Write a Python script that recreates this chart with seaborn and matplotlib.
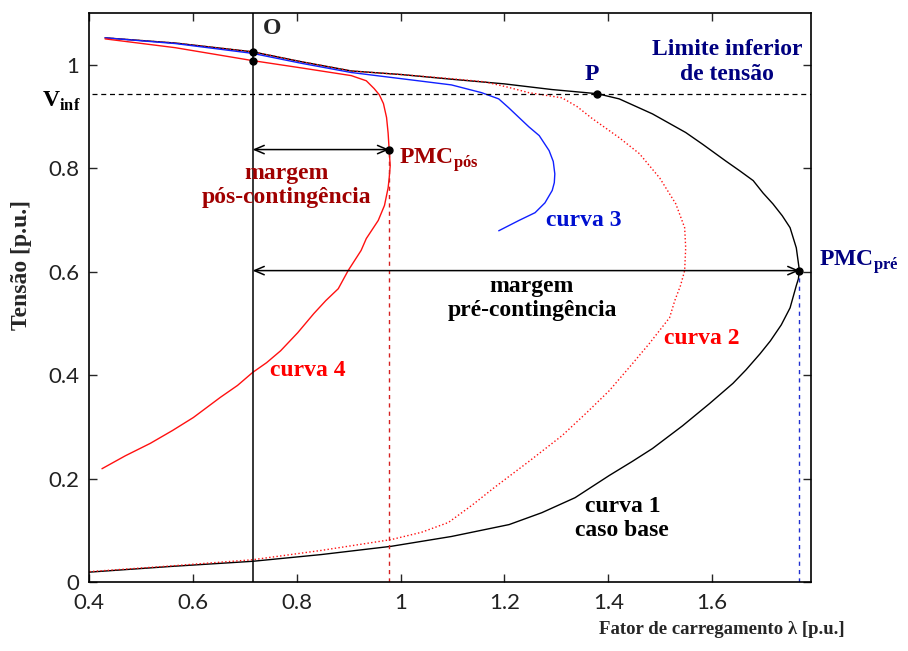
import matplotlib
matplotlib.use("Agg")
import matplotlib.pyplot as plt
import seaborn as sns
import pandas as pd

# curva 1 - caso base (black, solid)
c1_x = [0.431, 0.566, 0.715, 0.808, 0.905, 1.002, 1.098, 1.200, 1.292, 1.379, 1.421, 1.485,
        1.549, 1.582, 1.626, 1.653, 1.679, 1.698, 1.717, 1.735, 1.750, 1.762, 1.768, 1.766,
        1.762, 1.750, 1.733, 1.712, 1.692, 1.665, 1.640, 1.595, 1.543, 1.485, 1.446, 1.402,
        1.336, 1.272, 1.209, 1.098, 0.982, 0.847, 0.715, 0.557, 0.400]
c1_y = [1.052, 1.042, 1.025, 1.006, 0.988, 0.981, 0.972, 0.963, 0.952, 0.944, 0.934, 0.905,
        0.869, 0.846, 0.814, 0.795, 0.776, 0.752, 0.731, 0.708, 0.685, 0.646, 0.602, 0.586,
        0.573, 0.530, 0.497, 0.466, 0.441, 0.410, 0.384, 0.345, 0.302, 0.258, 0.233, 0.206,
        0.163, 0.134, 0.111, 0.088, 0.069, 0.053, 0.040, 0.030, 0.019]

# curva 2 (red, dotted)
c2_x = [0.431, 0.566, 0.715, 0.808, 0.905, 1.002, 1.098, 1.162, 1.205, 1.247, 1.311, 1.340,
        1.369, 1.421, 1.460, 1.499, 1.530, 1.547, 1.549, 1.547, 1.539, 1.528, 1.518, 1.479,
        1.443, 1.402, 1.359, 1.311, 1.247, 1.181, 1.137, 1.092, 1.040, 0.982, 0.847, 0.715,
        0.557, 0.400]
c2_y = [1.052, 1.042, 1.025, 1.006, 0.988, 0.981, 0.973, 0.967, 0.957, 0.946, 0.936, 0.919,
        0.896, 0.859, 0.828, 0.781, 0.731, 0.685, 0.646, 0.602, 0.573, 0.544, 0.511, 0.461,
        0.418, 0.370, 0.328, 0.283, 0.233, 0.183, 0.148, 0.115, 0.096, 0.082, 0.061, 0.043,
        0.031, 0.020]

# curva 3 (blue, solid)
c3_x = [0.431, 0.566, 0.715, 0.808, 0.905, 1.034, 1.098, 1.156, 1.189, 1.208, 1.228, 1.247,
        1.267, 1.286, 1.294, 1.297, 1.296, 1.292, 1.278, 1.259, 1.228, 1.189]
c3_y = [1.052, 1.041, 1.022, 1.003, 0.985, 0.969, 0.961, 0.946, 0.934, 0.917, 0.898, 0.880,
        0.863, 0.834, 0.813, 0.789, 0.772, 0.757, 0.733, 0.714, 0.699, 0.679]

# curva 4 (red, solid)
c4_x = [0.431, 0.566, 0.715, 0.808, 0.905, 0.934, 0.949, 0.959, 0.967, 0.973, 0.976, 0.978,
        0.980, 0.978, 0.976, 0.969, 0.957, 0.934, 0.924, 0.899, 0.880, 0.856, 0.833, 0.802,
        0.769, 0.742, 0.715, 0.686, 0.653, 0.601, 0.561, 0.518, 0.470, 0.425]
c4_y = [1.050, 1.033, 1.008, 0.994, 0.979, 0.969, 0.954, 0.942, 0.925, 0.898, 0.868, 0.836,
        0.805, 0.780, 0.762, 0.728, 0.699, 0.664, 0.641, 0.602, 0.567, 0.544, 0.519, 0.482,
        0.447, 0.424, 0.405, 0.380, 0.357, 0.318, 0.293, 0.268, 0.244, 0.219]

# marked points
lam_O = 0.715
v_inf = 0.944
O_y = [1.025, 1.008]
P_pt = (1.379, 0.944)
pmc_pos = (0.978, 0.836)
pmc_pre = (1.768, 0.602)

x_ticks = [0.4, 0.6, 0.8, 1.0, 1.2, 1.4, 1.6]
x_ticklabels = ['0.4', '0.6', '0.8', '1', '1.2', '1.4', '1.6']
y_ticks = [0, 0.2, 0.4, 0.6, 0.8, 1.0]
y_ticklabels = ['0', '0.2', '0.4', '0.6', '0.8', '1']

sns.set_style('ticks')
plt.rcParams['mathtext.fontset'] = 'custom'
plt.rcParams['mathtext.rm'] = 'Liberation Serif'
plt.rcParams['mathtext.bf'] = 'Liberation Serif:bold'

serif = ['Liberation Serif', 'DejaVu Serif']
tickfont = ['Lato', 'DejaVu Sans']

fig = plt.figure(figsize=(9.08, 6.51), dpi=100)
ax = fig.add_axes([0.098, 0.106, 0.795, 0.874])

curves = [
    (c1_x, c1_y, 'black', '-'),
    (c2_x, c2_y, '#ff1010', ':'),
    (c3_x, c3_y, '#1020ff', '-'),
    (c4_x, c4_y, '#ff1010', '-'),
]
for cx, cy, col, ls in curves:
    df = pd.DataFrame({'lam': cx, 'v': cy})
    sns.lineplot(data=df, x='lam', y='v', sort=False, estimator=None,
                 color=col, linestyle=ls, linewidth=1.0, ax=ax)

# reference lines
ax.axvline(lam_O, color='black', linewidth=1.1)
ax.plot([0.405, 1.79], [v_inf, v_inf], color='black', linestyle=(0, (4, 3)), linewidth=0.9)
ax.plot([pmc_pos[0], pmc_pos[0]], [0, pmc_pos[1]], color='#d42020',
        linestyle=(0, (3, 3)), linewidth=1.0)
ax.plot([pmc_pre[0], pmc_pre[0]], [0, pmc_pre[1]], color='#2030d0',
        linestyle=(0, (3, 3)), linewidth=1.0)

# margin arrows
for xe, ye in [(pmc_pos[0], pmc_pos[1]), (pmc_pre[0], pmc_pre[1])]:
    ax.annotate('', xy=(xe, ye), xytext=(lam_O, ye),
                arrowprops=dict(arrowstyle='<->,head_length=0.7,head_width=0.3',
                                color='black', linewidth=1.1, shrinkA=0, shrinkB=0))

# points
px = [lam_O, lam_O, P_pt[0], pmc_pos[0], pmc_pre[0]]
py = [O_y[0], O_y[1], P_pt[1], pmc_pos[1], pmc_pre[1]]
ax.plot(px, py, 'o', color='black', markersize=5, clip_on=False)

fs = 17
navy = '#000080'
dred = '#a00000'
ax.text(0.735, 1.07, 'O', fontsize=fs, fontweight='bold', family=serif, ha='left', va='center')
ax.text(P_pt[0] - 0.01, 0.981, 'P', fontsize=fs, fontweight='bold', family=serif,
        color=navy, ha='center', va='center')
ax.text(1.629, 1.006, 'Limite inferior\nde tensão', fontsize=fs, fontweight='bold',
        family=serif, color=navy, ha='center', va='center', linespacing=1.25)
ax.text(-0.012, 0.93, r'$\mathbf{V}_{\mathbf{inf}}$', transform=ax.get_yaxis_transform(),
        fontsize=fs, color='black', ha='right', va='center')
ax.text(0.996, 0.808, r'$\mathbf{PMC}_{\mathbf{pós}}$', fontsize=fs, color=dred,
        ha='left', va='baseline')
ax.text(0.781, 0.766, 'margem\npós-contingência', fontsize=fs, fontweight='bold',
        family=serif, color=dred, ha='center', va='center', linespacing=1.2)
ax.text(1.352, 0.698, 'curva 3', fontsize=fs, fontweight='bold', family=serif,
        color='#0010d0', ha='center', va='center')
ax.text(1.805, 0.611, r'$\mathbf{PMC}_{\mathbf{pré}}$', fontsize=fs, color=navy,
        ha='left', va='baseline', clip_on=False)
ax.text(1.253, 0.548, 'margem\npré-contingência', fontsize=fs, fontweight='bold',
        family=serif, color='black', ha='center', va='center', linespacing=1.2)
ax.text(1.580, 0.470, 'curva 2', fontsize=fs, fontweight='bold', family=serif,
        color='#ff0000', ha='center', va='center')
ax.text(0.822, 0.409, 'curva 4', fontsize=fs, fontweight='bold', family=serif,
        color='#ff0000', ha='center', va='center')
ax.text(1.427, 0.123, 'curva 1\ncaso base', fontsize=fs, fontweight='bold', family=serif,
        color='black', ha='center', va='center', linespacing=1.2)

ax.set_xlim(0.4, 1.79)
ax.set_ylim(0, 1.1)
ax.set_xticks(x_ticks)
ax.set_xticklabels(x_ticklabels, family=tickfont, fontweight='normal', fontsize=16,
                   color='#222222')
ax.set_yticks(y_ticks)
ax.set_yticklabels(y_ticklabels, family=tickfont, fontweight='normal', fontsize=16,
                   color='#222222')
ax.tick_params(direction='in', top=True, right=True, length=6, width=1.0)
ax.tick_params(axis='x', pad=8)
ax.tick_params(axis='y', pad=7)
for s in ax.spines.values():
    s.set_visible(True)
    s.set_linewidth(1.2)
    s.set_color('black')

ax.set_xlabel('Fator de carregamento λ [p.u.]', fontsize=13.5, fontweight='bold', family=serif)
ax.set_ylabel('Tensão [p.u.]', fontsize=17, fontweight='bold', family=serif)
ax.xaxis.set_label_coords(0.877, -0.068)
ax.yaxis.set_label_coords(-0.079, 0.557)

fig.savefig('out.png', dpi=100)
